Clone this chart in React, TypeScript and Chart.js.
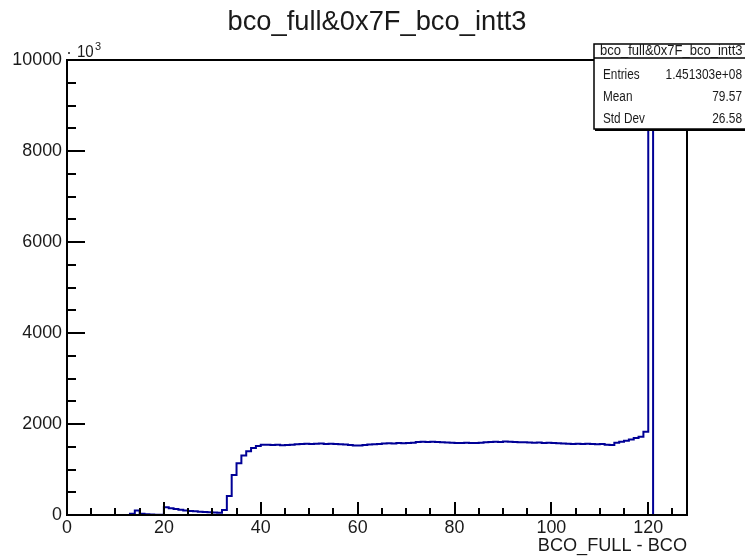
import React, { useEffect, useRef } from "react";
import { Chart, registerables } from "chart.js";

Chart.register(...registerables);

// Histogram bin contents (units of 10^3), bins of width 1 from 0 to 128
const binEdgesMin = 0;
const binEdgesMax = 128;
const counts: number[] = [
  // 0-12
  0, 0, 0, 0, 0, 0, 0, 0, 0, 0, 0, 0, 0,
  // 13-19
  25, 100, 30, 15, 10, 8, 8,
  // 20-31
  170, 150, 130, 115, 100, 90, 80, 72, 65, 60, 55, 50,
  // 32-40
  110, 420, 880, 1136, 1310, 1400, 1475, 1515, 1545,
  // 41-46
  1545, 1540, 1545, 1535, 1540, 1545,
  // 47-56
  1555, 1560, 1565, 1560, 1565, 1570, 1560, 1565, 1560, 1555,
  // 57-60
  1550, 1540, 1530, 1525,
  // 61-64
  1540, 1550, 1555, 1560,
  // 65-71
  1570, 1575, 1570, 1580, 1575, 1585, 1590,
  // 72-79
  1605, 1610, 1605, 1610, 1605, 1600, 1595, 1590,
  // 80-85
  1585, 1580, 1590, 1585, 1580, 1590,
  // 86-94
  1600, 1605, 1610, 1605, 1615, 1610, 1605, 1600, 1600,
  // 95-102
  1595, 1590, 1595, 1585, 1590, 1580, 1575, 1570,
  // 103-110
  1565, 1560, 1565, 1560, 1565, 1560, 1555, 1560,
  // 111-119
  1545, 1540, 1590, 1610, 1630, 1660, 1690, 1720, 1830,
  // 120
  10500,
  // 121-127
  0, 0, 0, 0, 0, 0, 0,
];

const yMax = 10000;
const xMajorTicks = [0, 20, 40, 60, 80, 100, 120];
const xTickLabels = ["0", "20", "40", "60", "80", "100", "120"];
const yMajorTicks = [0, 2000, 4000, 6000, 8000, 10000];
const yTickLabels = ["0", "2000", "4000", "6000", "8000", "10000"];
const xMinorStep = 5;
const yMinorStep = 500;

const titleText = "bco_full&0x7F_bco_intt3";
const xAxisTitle = "BCO_FULL - BCO";
const statsLabels = ["Entries", "Mean", "Std Dev"];
const statsValues = ["1.451303e+08", "79.57", "26.58"];

const FONT = '"Liberation Sans", Arial, sans-serif';
const TEXT = "#1a1a1a";

function txt(
  ctx: CanvasRenderingContext2D,
  s: string,
  x: number,
  y: number,
  size: number,
  align: CanvasTextAlign,
  sx = 1,
  baseline: CanvasTextBaseline = "middle"
) {
  ctx.save();
  ctx.font = `${size}px ${FONT}`;
  ctx.fillStyle = TEXT;
  ctx.textAlign = align;
  ctx.textBaseline = baseline;
  ctx.translate(x, y);
  ctx.scale(sx, 1);
  ctx.fillText(s, 0, 0);
  ctx.restore();
}

const rootPlugin = {
  id: "rootStyle",
  afterDatasetsDraw(chart: any) {
    const ctx: CanvasRenderingContext2D = chart.ctx;
    const xs = chart.scales.x;
    const ys = chart.scales.y;
    const { left, right, top, bottom } = chart.chartArea;

    ctx.save();
    ctx.strokeStyle = "#000";
    ctx.lineWidth = 2;
    ctx.lineCap = "butt";
    // frame
    ctx.beginPath();
    ctx.moveTo(left, top);
    ctx.lineTo(right, top);
    ctx.lineTo(right, bottom);
    ctx.lineTo(left, bottom);
    ctx.closePath();
    ctx.stroke();

    // y ticks
    for (let v = 0; v <= yMax; v += yMinorStep) {
      const py = Math.round(ys.getPixelForValue(v));
      const major = yMajorTicks.includes(v);
      ctx.beginPath();
      ctx.moveTo(left, py);
      ctx.lineTo(left + (major ? 18 : 9), py);
      ctx.stroke();
    }
    // x ticks
    for (let v = binEdgesMin; v < binEdgesMax; v += xMinorStep) {
      const px = Math.round(xs.getPixelForValue(v));
      const major = xMajorTicks.includes(v);
      ctx.beginPath();
      ctx.moveTo(px, bottom);
      ctx.lineTo(px, bottom - (major ? 13 : 7));
      ctx.stroke();
    }
    ctx.restore();

    // tick labels
    yMajorTicks.forEach((v, i) => {
      txt(ctx, yTickLabels[i], left - 5, ys.getPixelForValue(v), 19, "right", 0.94);
    });
    xMajorTicks.forEach((v, i) => {
      txt(ctx, xTickLabels[i], xs.getPixelForValue(v), bottom + 13, 19, "center", 0.94);
    });

    // exponent label
    ctx.save();
    ctx.fillStyle = TEXT;
    ctx.beginPath();
    ctx.arc(69, 53, 1, 0, Math.PI * 2);
    ctx.fill();
    ctx.restore();
    txt(ctx, "10", 77, 57, 16, "left", 0.94, "alphabetic");
    txt(ctx, "3", 95, 50, 11, "left", 1, "alphabetic");

    // axis title
    txt(ctx, xAxisTitle, right, bottom + 31, 19, "right", 0.955);

    // main title
    txt(ctx, titleText, 377, 30, 28, "center", 0.975, "alphabetic");

    // stats box
    const bx = 594;
    const by = 44;
    const bw = 170;
    const bh = 85;
    ctx.save();
    ctx.fillStyle = "#000";
    ctx.fillRect(bx + 1, by + bh, bw, 2);
    ctx.fillStyle = "#fff";
    ctx.fillRect(bx, by, bw, bh);
    ctx.strokeStyle = "#000";
    ctx.lineWidth = 1.5;
    ctx.strokeRect(bx, by, bw, bh);
    ctx.beginPath();
    ctx.moveTo(bx, 58);
    ctx.lineTo(bx + bw, 58);
    ctx.stroke();
    ctx.restore();
    txt(ctx, titleText, 600, 51.5, 14, "left", 0.93);
    const rowY = [75, 97, 119.5];
    statsLabels.forEach((l, i) => {
      txt(ctx, l, 603, rowY[i], 14, "left", 0.84);
      txt(ctx, statsValues[i], 742, rowY[i], 14, "right", 0.85);
    });
  },
};

export default function App() {
  const ref = useRef<HTMLCanvasElement | null>(null);
  useEffect(() => {
    if (!ref.current) return;
    const points = counts.map((c, i) => ({ x: binEdgesMin + i, y: c }));
    points.push({ x: binEdgesMax, y: counts[counts.length - 1] });
    const chart = new Chart(ref.current, {
      type: "line",
      data: {
        datasets: [
          {
            data: points,
            stepped: "before",
            borderColor: "rgb(0,0,150)",
            borderWidth: 2,
            pointRadius: 0,
            fill: false,
          },
        ],
      },
      options: {
        animation: false,
        responsive: false,
        devicePixelRatio: 1,
        layout: { padding: { left: 67, top: 60, right: 58, bottom: 42 } },
        plugins: {
          legend: { display: false },
          tooltip: { enabled: false },
          title: { display: false },
        },
        scales: {
          x: { type: "linear", min: binEdgesMin, max: binEdgesMax, display: false },
          y: { type: "linear", min: 0, max: yMax, display: false },
        },
      },
      plugins: [rootPlugin],
    });
    return () => chart.destroy();
  }, []);
  return (
    <div style={{ position: "fixed", left: 0, top: 0, width: 745, height: 557, background: "#fff" }}>
      <canvas ref={ref} width={745} height={557} style={{ width: 745, height: 557 }} />
    </div>
  );
}
